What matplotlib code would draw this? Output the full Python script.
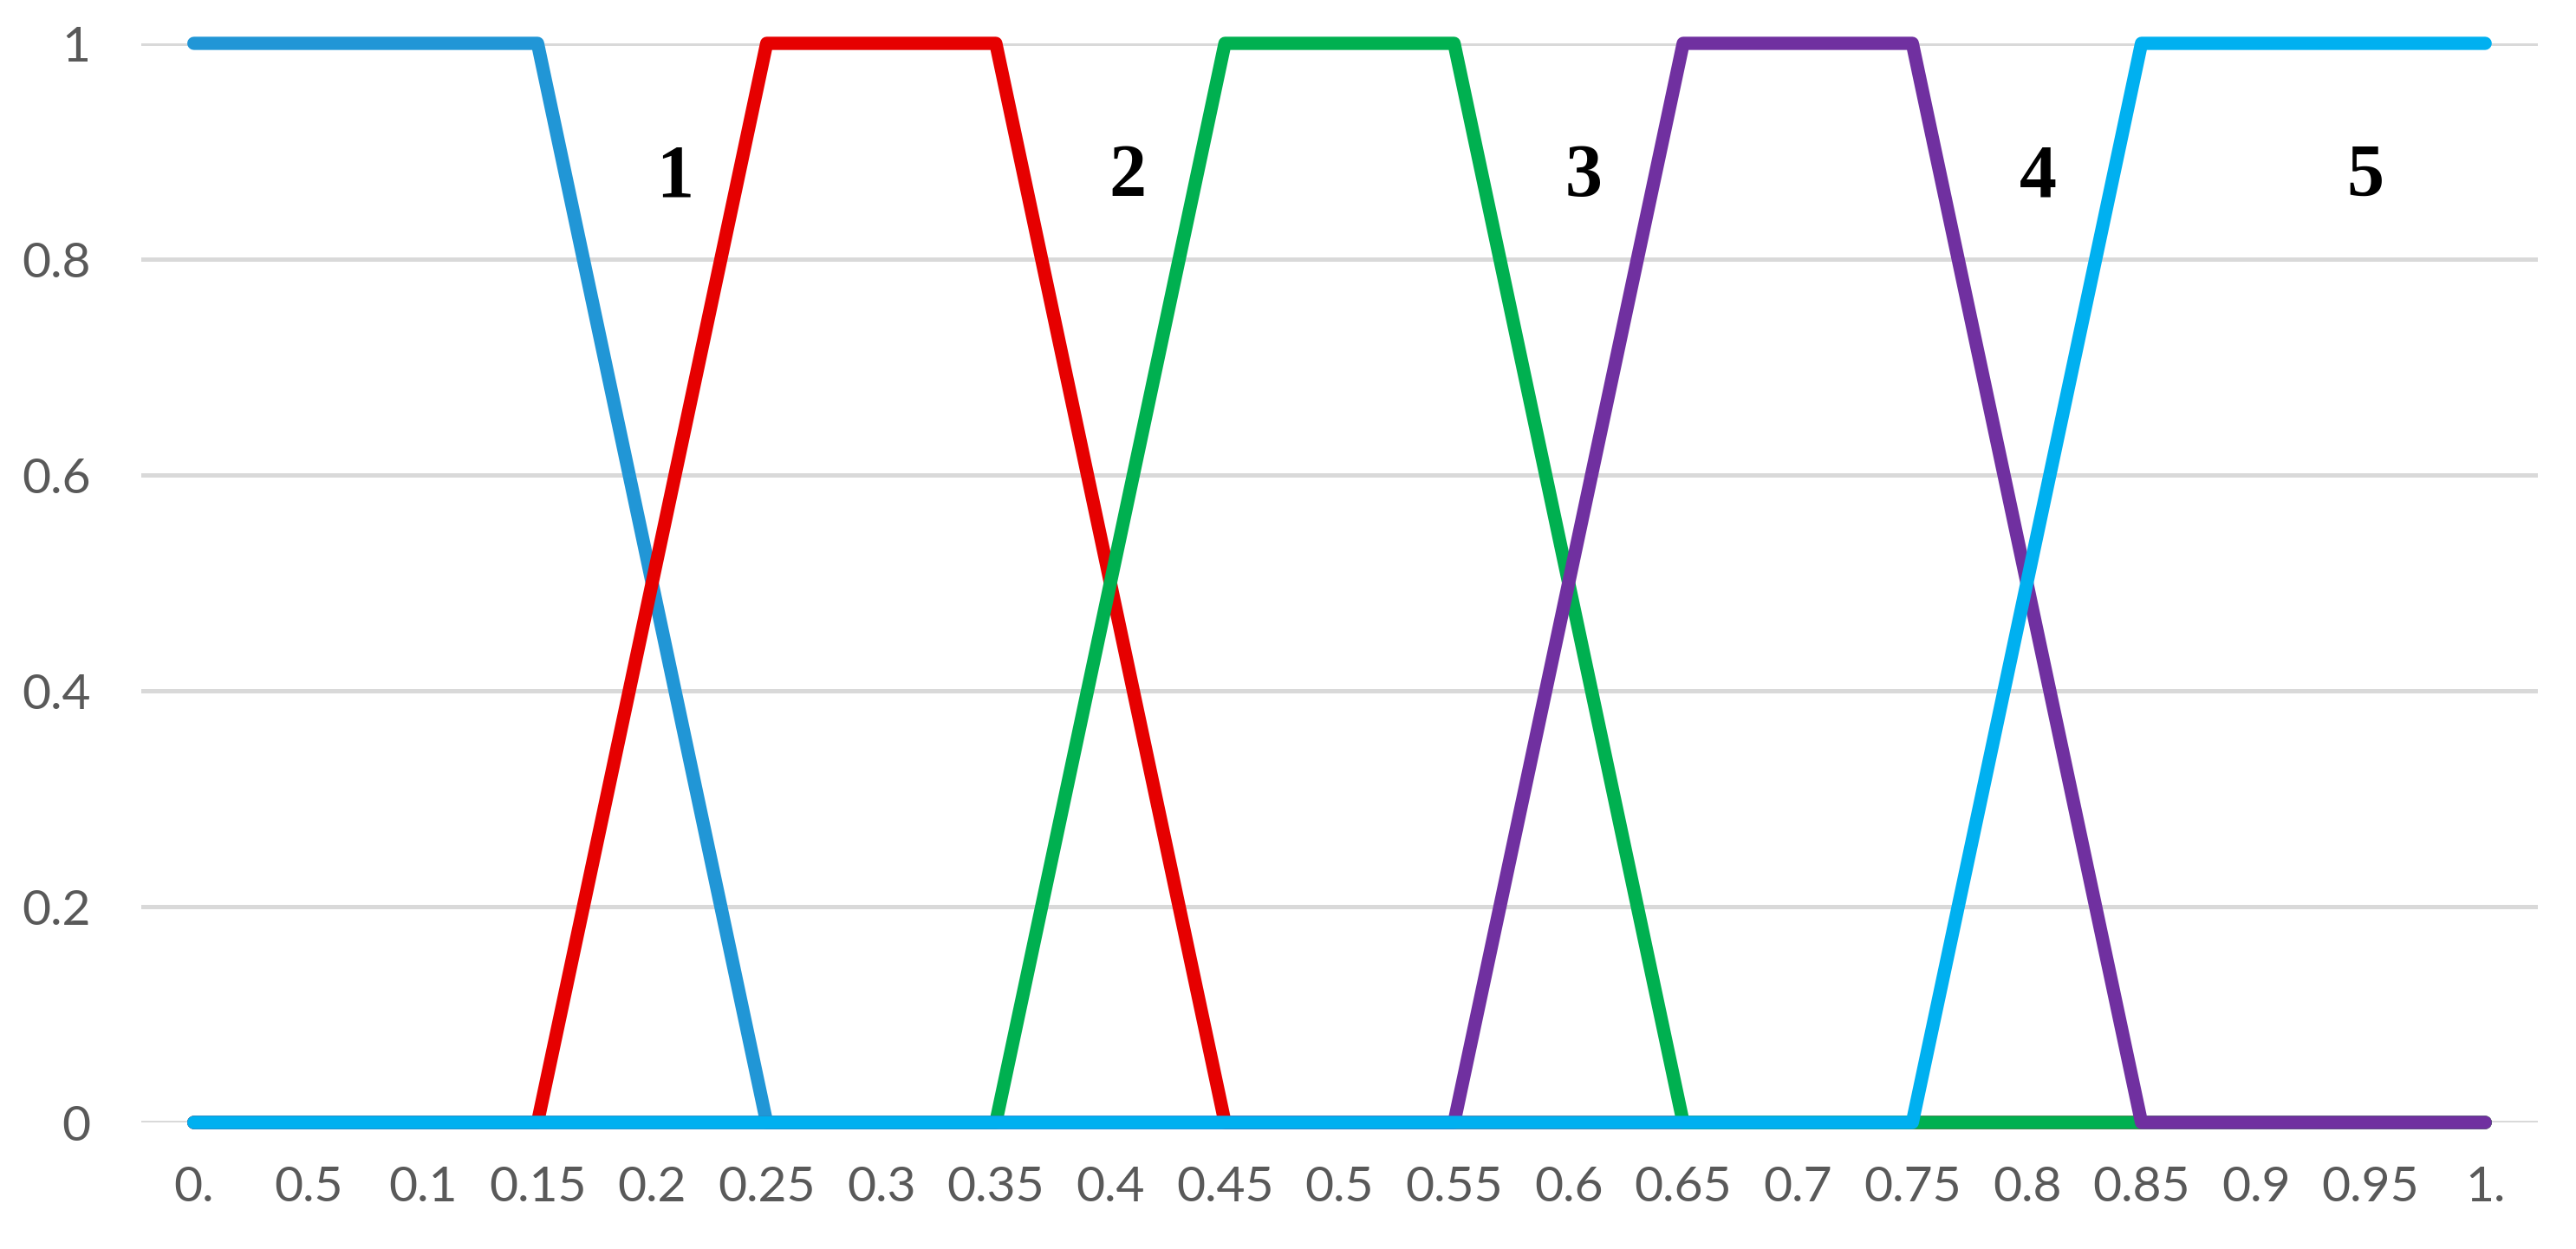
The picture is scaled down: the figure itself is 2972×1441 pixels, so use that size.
import matplotlib
matplotlib.use("Agg")
import matplotlib.pyplot as plt

# category axis labels (as printed on the chart)
x_labels = ["0.", "0.5", "0.1", "0.15", "0.2", "0.25", "0.3", "0.35", "0.4", "0.45", "0.5",
            "0.55", "0.6", "0.65", "0.7", "0.75", "0.8", "0.85", "0.9", "0.95", "1."]

# membership values for each fuzzy set
set1 = [1, 1, 1, 1, 0.5, 0, 0, 0, 0, 0, 0, 0, 0, 0, 0, 0, 0, 0, 0, 0, 0]
set2 = [0, 0, 0, 0, 0.5, 1, 1, 1, 0.5, 0, 0, 0, 0, 0, 0, 0, 0, 0, 0, 0, 0]
set3 = [0, 0, 0, 0, 0, 0, 0, 0, 0.5, 1, 1, 1, 0.5, 0, 0, 0, 0, 0, 0, 0, 0]
set4 = [0, 0, 0, 0, 0, 0, 0, 0, 0, 0, 0, 0, 0.5, 1, 1, 1, 0.5, 0, 0, 0, 0]
set5 = [0, 0, 0, 0, 0, 0, 0, 0, 0, 0, 0, 0, 0, 0, 0, 0, 0.5, 1, 1, 1, 1]

series = [set1, set2, set3, set4, set5]
colors = ["#2196D6", "#E60000", "#00B050", "#7030A0", "#00B0F0"]

# region labels
region_names = ["1", "2", "3", "4", "5"]
region_x = [4.2, 8.15, 12.13, 16.1, 18.95]
region_y = 0.875

y_ticks = [0, 0.2, 0.4, 0.6, 0.8, 1]
y_tick_labels = ["0", "0.2", "0.4", "0.6", "0.8", "1"]

tick_font = ["Lato", "DejaVu Sans"]

fig = plt.figure(figsize=(29.72, 14.41), dpi=100)
ax = fig.add_axes([0.0548, 0.1013, 0.9304, 0.864])

x = list(range(len(x_labels)))
for vals, col in zip(series, colors):
    ax.plot(x, vals, color=col, linewidth=11, solid_capstyle="round",
            solid_joinstyle="round", clip_on=False, zorder=3)

for name, rx in zip(region_names, region_x):
    ax.text(rx, region_y, name, fontsize=62, fontweight="bold",
            family=["Liberation Serif", "DejaVu Serif"],
            ha="center", va="center", color="black", zorder=4)

ax.set_xlim(-0.46, len(x_labels) - 1 + 0.46)
ax.set_ylim(0, 1)
ax.set_xticks(x)
ax.set_xticklabels(x_labels)
ax.set_yticks(y_ticks)
ax.set_yticklabels(y_tick_labels)
for lab in ax.get_xticklabels() + ax.get_yticklabels():
    lab.set_family(tick_font)
    lab.set_fontsize(41)
    lab.set_color("#595959")
ax.tick_params(axis="x", length=0, pad=36)
ax.tick_params(axis="y", length=0, pad=42)

ax.grid(axis="y", color="#D9D9D9", linewidth=3.6, zorder=0)
ax.set_axisbelow(True)
for spine in ax.spines.values():
    spine.set_visible(False)

fig.savefig("out.png", dpi=100)
